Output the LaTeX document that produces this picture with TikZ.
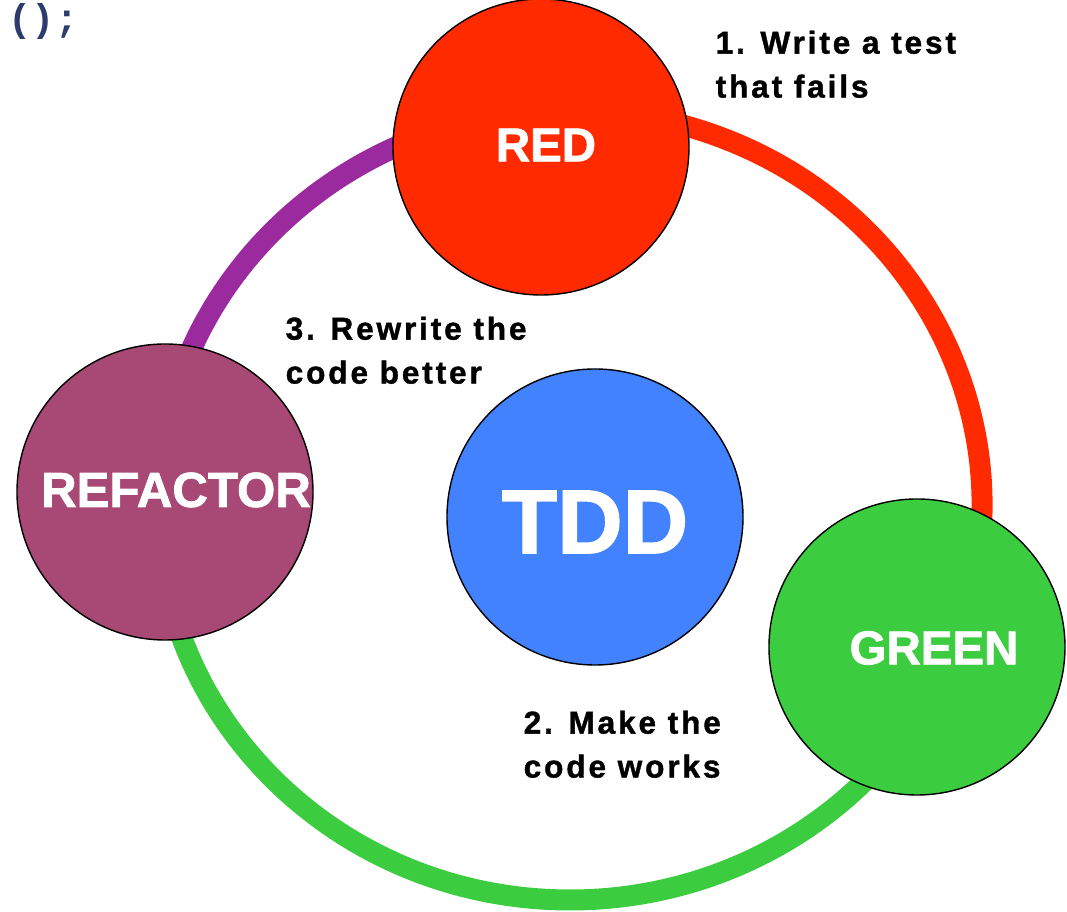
\documentclass[tikz,border=0pt]{standalone}
\usepackage{fontspec}
\setmainfont{Liberation Sans}
\setmonofont{Liberation Mono}
\newfontfamily\notefont[LetterSpace=9.0,FakeBold=1.2]{Liberation Sans Bold}
\newfontfamily\phasefont[FakeBold=1.5]{Liberation Sans Bold}

\definecolor{redc}{HTML}{FF2A00}
\definecolor{purplec}{HTML}{9A2A9E}
\definecolor{refc}{HTML}{A84874}
\definecolor{bluec}{HTML}{4282FF}
\definecolor{greenc}{HTML}{3CCC40}
\definecolor{codec}{HTML}{2C3C6C}

\begin{document}
\begin{tikzpicture}[
  phase/.style={circle,draw=black,line width=0.4pt,minimum size=2.96cm,inner sep=0pt},
  phasetext/.style={text=white,font=\phasefont\fontsize{13.5}{16}\selectfont},
  ring/.style={line width=0.21cm},
  note/.style={anchor=north west,align=left,inner sep=0pt,font=\notefont\fontsize{9}{12.5}\selectfont}
]
\useasboundingbox (0,0) rectangle (10.67,9.12);

\draw (5.70,4.07) coordinate(MID);

% the cycle, behind the circles
\draw[ring,purplec] (MID) ++(100:4.12 and 3.95) arc[start angle=100,end angle=178,x radius=4.12,y radius=3.95];
\draw[ring,greenc] (MID) ++(180:4.12 and 3.95) arc[start angle=180,end angle=345,x radius=4.12,y radius=3.95];
\draw[ring,redc] (MID) ++(-15:4.12 and 3.95) arc[start angle=-15,end angle=104,x radius=4.12,y radius=3.95];

\draw (5.41,7.65) node(RED)[phase,fill=redc]{};
\draw (1.65,4.20) node(REFACTOR)[phase,fill=refc]{};
\draw (5.95,3.95) node(TDD)[phase,fill=bluec]{};
\draw (9.17,2.65) node(GREEN)[phase,fill=greenc]{};

\draw (5.46,7.67) node(REDTXT)[phasetext]{RED};
\draw (1.76,4.22) node(REFTXT)[phasetext,font=\phasefont\fontsize{14}{16}\selectfont]{REFACTOR};
\draw (5.95,3.90) node(TDDTXT)[phasetext,font=\phasefont\fontsize{25.8}{30}\selectfont]{TDD};
\draw (9.34,2.64) node(GREENTXT)[phasetext]{GREEN};

\draw (7.15,8.82) node(STEP1)[note]{1. Write a test\\that fails};
\draw (5.23,2.02) node(STEP2)[note]{2. Make the\\code works};
\draw (2.85,5.96) node(STEP3)[note]{3. Rewrite the\\code better};

%\draw (5.70,4.07) circle[x radius=4.12,y radius=3.95];
\draw (0.08,8.80) node(CODE)[anchor=base west,inner sep=0pt,text=codec,font=\ttfamily\bfseries\fontsize{11}{12}\selectfont]{();};

\end{tikzpicture}
\end{document}
